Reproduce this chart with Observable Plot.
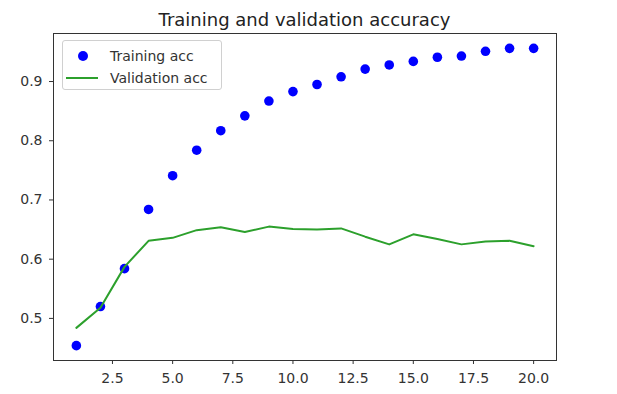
<!DOCTYPE html>
<html>
<head>
<meta charset="utf-8">
<script src="https://cdn.jsdelivr.net/npm/d3@7"></script>
<script src="https://cdn.jsdelivr.net/npm/@observablehq/plot@0.6"></script>
<style>
  html, body { margin: 0; padding: 0; background: #fff; }
  #wrap { position: relative; width: 617px; height: 394px; font-family: "DejaVu Sans", sans-serif; color: #333; }
  #title { position: absolute; left: 53px; width: 503px; top: 11px; font-size: 18px; line-height: 18px; text-align: center; color: #222; white-space: nowrap; }
  #legend { position: absolute; left: 62px; top: 40px; width: 158px; height: 48px; border: 1px solid #d0d0d0; border-radius: 3px; background: rgba(255,255,255,0.8); padding-top: 0; }
  .row { position: absolute; left: 0; height: 22px; width: 100%; display: flex; align-items: center; font-size: 14px; line-height: 14px; color: #333; }
  .sym { position: absolute; }
  .lab { position: absolute; left: 47px; }
</style>
</head>
<body>
<div id="wrap">
  <div id="chart"></div>
  <div id="title"></div>
  <div id="legend"></div>
</div>
<script>
const titleText = "Training and validation accuracy";
const epochs = [1,2,3,4,5,6,7,8,9,10,11,12,13,14,15,16,17,18,19,20];
const trainAcc = [0.454,0.520,0.584,0.684,0.741,0.784,0.817,0.842,0.867,0.883,0.895,0.908,0.921,0.928,0.934,0.941,0.943,0.951,0.956,0.956];
const valAcc = [0.484,0.518,0.587,0.631,0.636,0.649,0.654,0.646,0.655,0.651,0.650,0.652,0.638,0.625,0.642,0.634,0.625,0.630,0.631,0.622];
const xTicks = [2.5,5,7.5,10,12.5,15,17.5,20];
const yTicks = [0.5,0.6,0.7,0.8,0.9];
const seriesNames = ["Training acc", "Validation acc"];
const trainColor = "#0000ff";
const valColor = "#2ca02c";

const data = epochs.map((e, i) => ({epoch: e, train: trainAcc[i], val: valAcc[i]}));

const xPad = (d3.max(epochs) - d3.min(epochs)) * 0.05;
const yMin = d3.min([...trainAcc, ...valAcc]), yMax = d3.max([...trainAcc, ...valAcc]);
const yPad = (yMax - yMin) * 0.05;

const chart = Plot.plot({
  width: 617,
  height: 394,
  marginLeft: 53,
  marginRight: 61,
  marginTop: 33,
  marginBottom: 34,
  style: {fontFamily: "DejaVu Sans", fontSize: "14px", color: "#333", background: "white", overflow: "visible"},
  x: {domain: [d3.min(epochs) - xPad, d3.max(epochs) + xPad]},
  y: {domain: [yMin - yPad, yMax + yPad]},
  marks: [
    Plot.dot(data, {x: "epoch", y: "train", r: 4.8, fill: trainColor, stroke: null}),
    Plot.line(data, {x: "epoch", y: "val", stroke: valColor, strokeWidth: 2}),
    Plot.frame({stroke: "#333", strokeWidth: 1}),
    Plot.axisX({ticks: xTicks, tickFormat: d => d.toFixed(1), tickSize: 4, tickPadding: 9, label: null}),
    Plot.axisY({ticks: yTicks, tickFormat: d => d.toFixed(1), tickSize: 4, tickPadding: 7, label: null})
  ]
});
document.getElementById("chart").appendChild(chart);
document.getElementById("title").textContent = titleText;

const legend = document.getElementById("legend");
seriesNames.forEach((name, i) => {
  const row = document.createElement("div");
  row.className = "row";
  row.style.top = (4 + i * 22) + "px";
  const sym = document.createElement("div");
  sym.className = "sym";
  if (i === 0) {
    Object.assign(sym.style, {left: "15px", top: "6px", width: "10px", height: "10px", borderRadius: "50%", background: trainColor});
  } else {
    Object.assign(sym.style, {left: "3px", top: "10px", width: "32px", height: "2px", background: valColor});
  }
  const lab = document.createElement("div");
  lab.className = "lab";
  lab.textContent = name;
  row.appendChild(sym);
  row.appendChild(lab);
  legend.appendChild(row);
});
</script>
</body>
</html>
